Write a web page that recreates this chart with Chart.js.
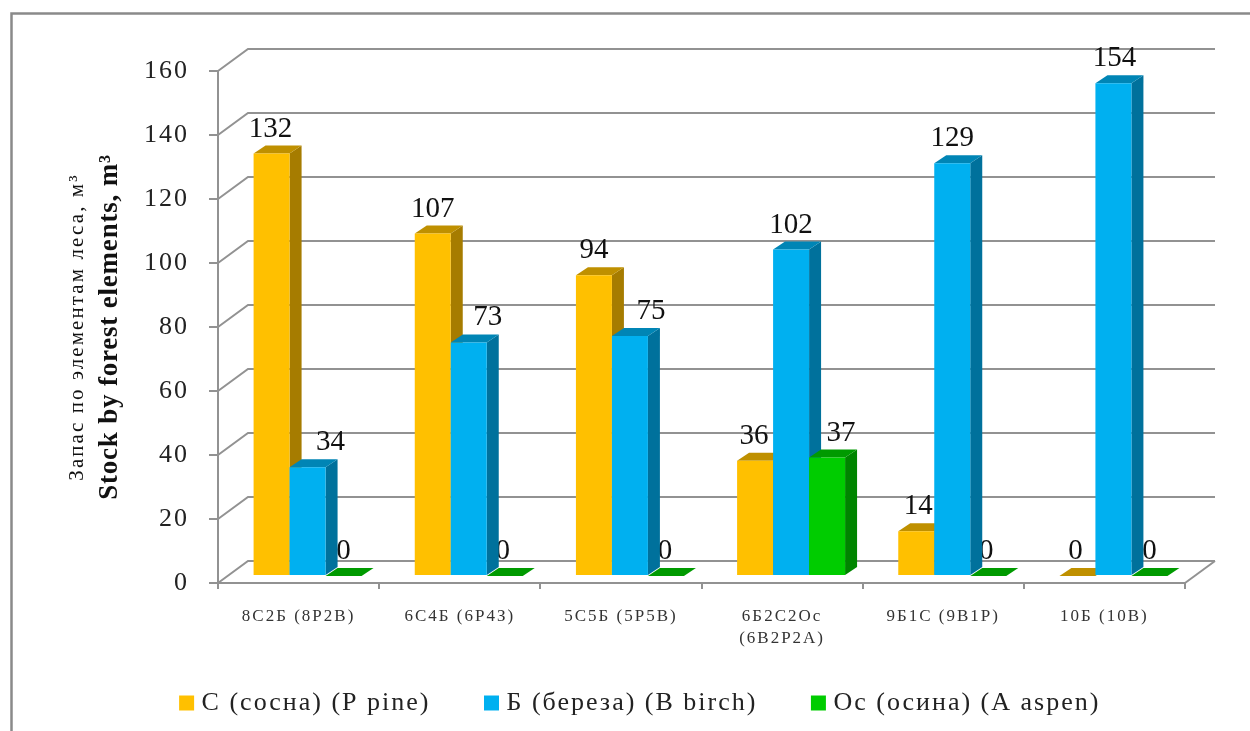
<!DOCTYPE html>
<html>
<head>
<meta charset="utf-8">
<style>html,body{margin:0;padding:0;background:#fff}canvas{display:block}</style>
<script src="https://cdn.jsdelivr.net/npm/chart.js@4"></script>
</head>
<body>
<canvas id="c" width="1250" height="731"></canvas>
<script>
const categories = ['8С2Б (8Р2В)', '6С4Б (6Р4З)', '5С5Б (5Р5В)', ['6Б2С2Ос', '(6В2Р2А)'], '9Б1С (9В1Р)', '10Б (10В)'];
const pine = [132, 107, 94, 36, 14, 0];
const birch = [34, 73, 75, 102, 129, 154];
const aspen = [0, 0, 0, 37, 0, 0];
const yTicks = [0, 20, 40, 60, 80, 100, 120, 140, 160];
// Horizontal nudges that keep value labels clear of neighbouring columns
const pineLabelShift = [-1, 0, 0, -1, 2, -2];
const birchLabelShift = [23, 19, 21, 0, 0, 1];
const aspenLabelShift = [0, -2, -1, 14, -2, 0];
const labelShifts = [pineLabelShift, birchLabelShift, aspenLabelShift];

const SERIF = '"Liberation Serif", serif';
const GRID = '#929292';
const faces = [
  { front: '#FFC000', top: '#BF9000', side: '#A67C00' },
  { front: '#00B0F0', top: '#0085B5', side: '#00719C' },
  { front: '#00CC00', top: '#009A00', side: '#008500' }
];
const WALL = { dx: 30, dy: -22 };   // depth of the back wall
const LIFT = { dx: 9, dy: -7 };     // columns stand inside the floor
const DEPTH = { dx: 12, dy: -8 };   // column thickness
const TEXT_SPACING = '2px';

function poly(ctx, color, pts) {
  ctx.fillStyle = color;
  ctx.beginPath();
  pts.forEach((p, i) => i ? ctx.lineTo(p[0], p[1]) : ctx.moveTo(p[0], p[1]));
  ctx.closePath();
  ctx.fill();
}

function text(ctx, str, x, y, font, spacing) {
  ctx.save();
  ctx.letterSpacing = spacing || '0px';
  ctx.font = font;
  ctx.fillStyle = '#111';
  ctx.textAlign = 'center';
  ctx.textBaseline = 'alphabetic';
  ctx.fillText(str, x, y);
  ctx.restore();
}

const spacingPlugin = {
  id: 'spacing',
  beforeLayout(chart) { chart.ctx.letterSpacing = TEXT_SPACING; },
  // Two-line category labels run below the box the legend leaves for the axis
  afterLayout(chart) { chart.scales.x.bottom += 30; },
  beforeDraw(chart) { chart.ctx.letterSpacing = TEXT_SPACING; }
};

// Page frame, back wall and side wall
const wallPlugin = {
  id: 'wall',
  beforeDatasetsDraw(chart) {
    const { ctx, chartArea: a, scales: { y } } = chart;
    ctx.save();
    ctx.strokeStyle = '#8a8a8a';
    ctx.lineWidth = 2.5;
    ctx.beginPath();
    ctx.moveTo(11.5, 731);
    ctx.lineTo(11.5, 13.5);
    ctx.lineTo(1250, 13.5);
    ctx.stroke();

    ctx.strokeStyle = GRID;
    ctx.lineWidth = 2;
    yTicks.forEach(v => {
      const py = y.getPixelForValue(v);
      ctx.beginPath();
      ctx.moveTo(a.left, py);
      ctx.lineTo(a.left + WALL.dx, py + WALL.dy);
      ctx.lineTo(a.right + WALL.dx, py + WALL.dy);
      ctx.stroke();
    });
    const py0 = y.getPixelForValue(0);
    ctx.beginPath();
    ctx.moveTo(a.right, py0);
    ctx.lineTo(a.right + WALL.dx, py0 + WALL.dy);
    ctx.stroke();
    ctx.restore();
  }
};

// Columns with thickness, drawn first series to last so each overlaps the one before it
const columnPlugin = {
  id: 'columns',
  beforeDatasetsDraw(chart) {
    const ctx = chart.ctx;
    const labelFont = '29px ' + SERIF;
    const eachLabel = fn => chart.data.datasets.forEach((ds, s) => {
      chart.getDatasetMeta(s).data.forEach((el, i) => fn(ds.data[i], el, s, i));
    });
    const drawLabel = (v, el, s, i) => text(ctx, String(v), el.x + LIFT.dx + labelShifts[s][i], el.y + LIFT.dy - 17, labelFont);

    // Zero labels sit behind the columns next to them
    eachLabel((v, el, s, i) => { if (v === 0) drawLabel(v, el, s, i); });

    chart.data.datasets.forEach((ds, s) => {
      chart.getDatasetMeta(s).data.forEach(el => {
        const l = el.x - el.width / 2 + LIFT.dx, r = el.x + el.width / 2 + LIFT.dx;
        const t = el.y + LIFT.dy, b = el.base + LIFT.dy;
        const c = faces[s];
        if (b > t) {
          poly(ctx, c.side, [[r, t], [r + DEPTH.dx, t + DEPTH.dy], [r + DEPTH.dx, b + DEPTH.dy], [r, b]]);
        }
        poly(ctx, c.top, [[l, t], [l + DEPTH.dx, t + DEPTH.dy], [r + DEPTH.dx, t + DEPTH.dy], [r, t]]);
        ctx.save();
        ctx.translate(LIFT.dx, LIFT.dy);
        el.draw(ctx);
        ctx.restore();
      });
    });

    eachLabel((v, el, s, i) => { if (v !== 0) drawLabel(v, el, s, i); });
    return false;
  }
};

// Two-language axis caption, one line in each weight
const captionPlugin = {
  id: 'caption',
  afterDraw(chart) {
    const ctx = chart.ctx;
    ctx.save();
    ctx.translate(0, 327);
    ctx.rotate(-Math.PI / 2);
    text(ctx, 'Запас по элементам леса, м³', 0, 83, '21px ' + SERIF, '2.1px');
    text(ctx, 'Stock by forest elements, m³', 0, 117, 'bold 27px ' + SERIF, '0.8px');
    ctx.restore();
  }
};

new Chart(document.getElementById('c'), {
  type: 'bar',
  data: {
    labels: categories,
    datasets: [
      { label: 'С (сосна) (P pine)', data: pine, backgroundColor: faces[0].front },
      { label: 'Б (береза) (B birch)', data: birch, backgroundColor: faces[1].front },
      { label: 'Ос (осина) (A aspen)', data: aspen, backgroundColor: faces[2].front }
    ]
  },
  options: {
    responsive: false,
    animation: false,
    layout: { padding: { left: 100, right: 65, top: 71, bottom: 5 } },
    datasets: { bar: { categoryPercentage: 0.67, barPercentage: 1, borderWidth: 0 } },
    plugins: {
      tooltip: { enabled: false },
      legend: {
        position: 'bottom',
        labels: {
          usePointStyle: true,
          pointStyle: 'rect',
          boxWidth: 4,
          boxHeight: 15,
          padding: 59,
          color: '#222',
          font: { family: SERIF, size: 26 }
        }
      }
    },
    scales: {
      x: {
        afterFit(s) { s.height = 48; },
        border: { color: GRID, width: 2 },
        grid: { drawOnChartArea: false, color: GRID, lineWidth: 2, tickLength: 6 },
        ticks: { color: '#333', padding: 17, maxRotation: 0, autoSkip: false, font: { family: SERIF, size: 17, lineHeight: 1.27 } }
      },
      y: {
        min: 0,
        max: 160,
        afterFit(s) { s.width = 118; },
        border: { color: GRID, width: 2 },
        grid: { drawOnChartArea: false, color: GRID, lineWidth: 2, tickLength: 9 },
        afterBuildTicks(s) { s.ticks = yTicks.map(value => ({ value })); },
        ticks: { color: '#222', padding: 20, font: { family: SERIF, size: 26 } }
      }
    }
  },
  plugins: [spacingPlugin, wallPlugin, columnPlugin, captionPlugin]
});
</script>
</body>
</html>
